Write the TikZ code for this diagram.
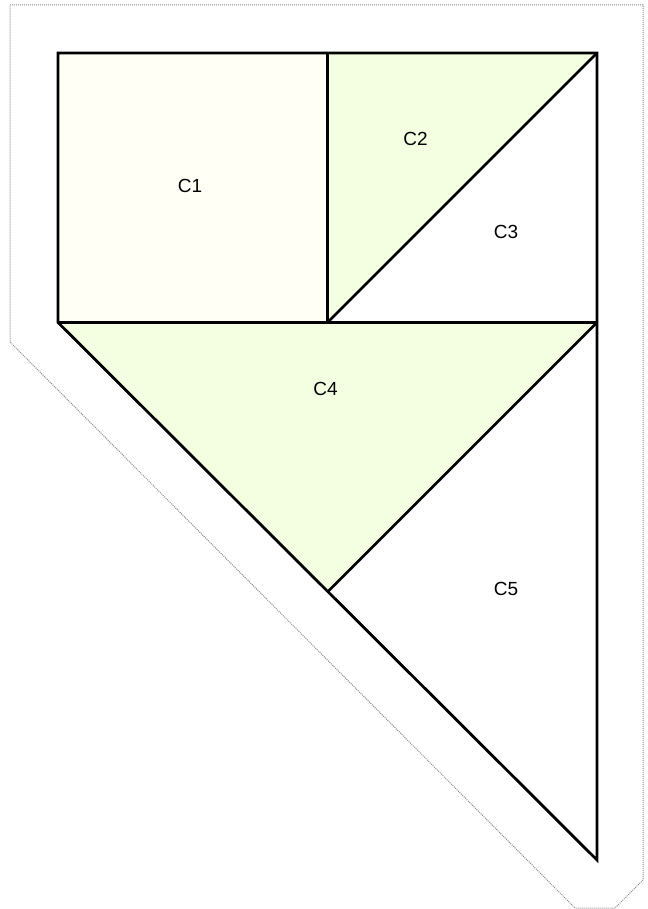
\documentclass[tikz,border=0pt]{standalone}
\usepackage{fontspec}
\setmainfont{Liberation Sans}
\usepackage{xcolor}
\usetikzlibrary{positioning}
\definecolor{paleyellow}{RGB}{255,255,245}
\definecolor{palegreen}{RGB}{244,255,226}
\definecolor{outlinegray}{RGB}{140,140,140}

\begin{document}
\begin{tikzpicture}[x=1pt, y=-1pt, every node/.style={font=\fontsize{19}{22}\selectfont, inner sep=0pt},
    piece/.style={draw=black, line width=2.8pt, line join=miter}]
    \useasboundingbox (0,0) rectangle (647,909);
    % outer frame
    \draw[outlinegray, densely dotted, line width=1pt, fill=white]
        (10,5) -- (643,5) -- (643,880) -- (615,908) -- (575,908) -- (10,342) -- cycle;
    % pieces
    \coordinate (tl) at (58,53);
    \coordinate (tm) at (327.5,53);
    \coordinate (tr) at (597,53);
    \coordinate (ml) at (58,322.5);
    \coordinate (mm) at (327.5,322.5);
    \coordinate (mr) at (597,322.5);
    \coordinate (ap) at (327.5,592);
    \coordinate (bt) at (597,860);
    \fill[paleyellow] (tl) rectangle (mm);
    \fill[palegreen] (tm) -- (tr) -- (mm) -- cycle;
    \fill[palegreen] (ml) -- (mr) -- (ap) -- cycle;
    \draw[piece] (tl) -- (tr) -- (bt) -- (ml) -- cycle;
    \draw[piece] (ml) -- (mr);
    \draw[piece] (tm) -- (mm);
    \draw[piece] (mm) -- (tr);
    \draw[piece] (mr) -- (ap);
    % labels
    \node (c1) at (190,186) {C1};
    \node (c2) at (415.5,139) {C2};
    \node (c3) at (506,232) {C3};
    \node (c4) at (325.5,389) {C4};
    \node (c5) at (506,589) {C5};
\end{tikzpicture}
\end{document}
